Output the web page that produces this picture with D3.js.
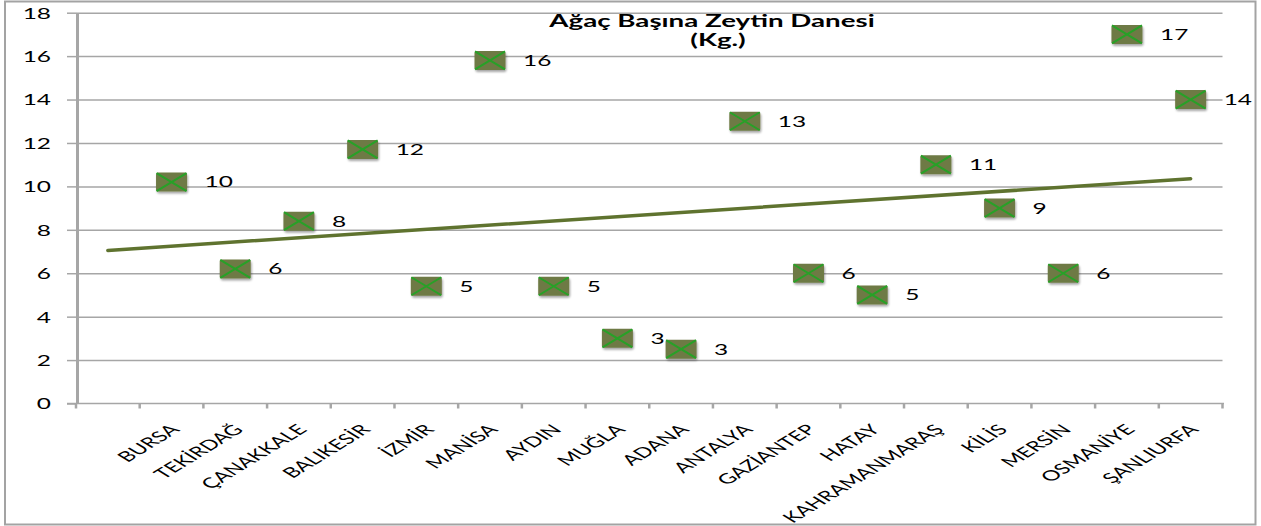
<!DOCTYPE html>
<html>
<head>
<meta charset="utf-8">
<script src="https://cdn.jsdelivr.net/npm/d3@7"></script>
<style>
	body { margin: 0; background: #fff; }
	text { font-family: Lato, "Open Sans", sans-serif; fill: #000; }
</style>
</head>
<body>
<svg id="chart" width="1261" height="526"></svg>
<script>
// chart data
const provinces = ["BURSA", "TEKİRDAĞ", "ÇANAKKALE", "BALIKESİR", "İZMİR", "MANİSA", "AYDIN", "MUĞLA", "ADANA",
	"ANTALYA", "GAZİANTEP", "HATAY", "KAHRAMANMARAŞ", "KİLİS", "MERSİN", "OSMANİYE", "ŞANLIURFA"];
const values = [10.2, 6.2, 8.4, 11.7, 5.4, 15.8, 5.4, 3.0, 2.5, 13.0, 6.0, 5.0, 11.0, 9.0, 6.0, 17.0, 14.0];
const yTicks = [0, 2, 4, 6, 8, 10, 12, 14, 16, 18];
const titleLines = ["Ağaç Başına Zeytin Danesi", "(Kg.)"];

const svg = d3.select("svg#chart");
// the picture is stretched sideways, text follows that
const SX = 1.63;
const categories = [" ", ...provinces];
const x = d3.scaleBand(categories, [76, 1222.5]);
const y = d3.scaleLinear([0, 18], [403.5, 12.7]);
const gridColor = "#a6a6a6";

const defs = svg.append("defs");
const shadow = defs.append("filter").attr("id", "shadow")
	.attr("x", "-30%").attr("y", "-30%").attr("width", "160%").attr("height", "160%");
shadow.append("feDropShadow").attr("dx", 1).attr("dy", 2).attr("stdDeviation", 1.3)
	.attr("flood-color", "#000").attr("flood-opacity", 0.35);

// outer frame
svg.append("rect")
	.attr("x", 5).attr("y", 1.5).attr("width", 1250.5).attr("height", 523)
	.attr("fill", "none").attr("stroke", "#a3a3a3").attr("stroke-width", 2);

let annotations = svg.append("g").attr("id", "annotations");
let chartArea = svg.append("g");

// horizontal grid
let horizontalGrid = d3.axisLeft(y).tickValues(yTicks.slice(1)).tickSize(-(1222.5 - 77)).tickFormat("");
annotations.append("g")
	.attr("class", "y-grid")
	.attr("transform", "translate(77,0)")
	.call(horizontalGrid)
	.call(g => g.select(".domain").remove())
	.call(g => g.selectAll("line").attr("stroke", gridColor).attr("stroke-width", 1.5));

// y axis with outside ticks and labels
let leftAxis = d3.axisLeft(y).tickValues(yTicks).tickSize(10).tickSizeOuter(0);
annotations.append("g")
	.attr("class", "y-axis")
	.attr("transform", "translate(77,0)")
	.call(leftAxis)
	.call(g => g.select(".domain").attr("stroke", gridColor).attr("stroke-width", 3))
	.call(g => g.selectAll(".tick line").attr("stroke", gridColor).attr("stroke-width", 1.5))
	.call(g => g.selectAll(".tick text")
		.attr("x", null).attr("dy", "0.36em")
		.attr("transform", `translate(-26,0) scale(${SX},1)`)
		.style("font-size", "15px").style("font-family", "Lato, sans-serif").attr("fill", "#000"));

// x axis line and ticks between categories
annotations.append("line")
	.attr("x1", 67).attr("x2", 1224).attr("y1", y(0)).attr("y2", y(0))
	.attr("stroke", gridColor).attr("stroke-width", 1.5);
annotations.selectAll(".x-tick")
	.data([...categories.map(c => x(c)), x.range()[1]])
	.join("line")
	.attr("class", "x-tick")
	.attr("x1", d => d).attr("x2", d => d)
	.attr("y1", y(0)).attr("y2", y(0) + 5)
	.attr("stroke", gridColor).attr("stroke-width", 2.5);

let bottomAxis = d3.axisBottom(x).tickSize(0).tickSizeOuter(0);
annotations.append("g")
	.attr("class", "x-axis")
	.attr("transform", `translate(0, ${y(0)})`)
	.call(bottomAxis)
	.call(g => g.select(".domain").remove())
	.call(g => g.selectAll(".tick text")
		.attr("y", null).attr("dy", null)
		.attr("text-anchor", "end")
		.attr("transform", `translate(9,27) scale(${SX},1) rotate(-45)`)
		.style("font-size", "14.3px").style("font-family", "Lato, sans-serif").attr("fill", "#000"));

// title
annotations.selectAll(".title")
	.data(titleLines)
	.join("text")
	.attr("class", "title")
	.attr("text-anchor", "middle")
	.attr("transform", (d, i) => `translate(${712 + i * 6}, ${27 + i * 19}) scale(${SX},1)`)
	.style("font-size", "17px")
	.style("font-weight", "bold")
	.text(d => d);

// linear trend over the category positions (first slot is empty)
const pts = provinces.map((p, i) => ({ name: p, idx: i + 2, value: values[i] }));
const mx = d3.mean(pts, d => d.idx);
const my = d3.mean(pts, d => d.value);
const slope = d3.sum(pts, d => (d.idx - mx) * (d.value - my)) / d3.sum(pts, d => (d.idx - mx) ** 2);
const icpt = my - slope * mx;
const center = idx => x(categories[idx - 1]) + x.bandwidth() / 2;
let gen = d3.line(d => center(d), d => y(icpt + slope * d));
chartArea.append("path")
	.datum([1, categories.length])
	.attr("d", gen)
	.attr("fill", "none")
	.attr("stroke", "#5f732f")
	.attr("stroke-width", 3.5)
	.attr("stroke-linecap", "round");

// markers
let marks = chartArea.selectAll(".mark")
	.data(pts)
	.join("g")
	.attr("class", "mark")
	.attr("transform", d => `translate(${center(d.idx)}, ${y(d.value)})`);
marks.append("rect")
	.attr("x", -15.5).attr("y", -9.5).attr("width", 31).attr("height", 19).attr("rx", 2)
	.attr("fill", "#6e7a44")
	.attr("filter", "url(#shadow)");
marks.append("path")
	.attr("d", "M-15,-9L15,9M-15,9L15,-9")
	.attr("stroke", "#27a127")
	.attr("stroke-width", 2);

// value labels
chartArea.selectAll(".value-label")
	.data(pts)
	.join("text")
	.attr("class", "value-label")
	.attr("dy", "0.36em")
	.attr("transform", d => `translate(${center(d.idx) + 33}, ${y(d.value)}) scale(${SX},1)`)
	.style("font-size", "15px")
	.text(d => Math.round(d.value));
</script>
</body>
</html>
